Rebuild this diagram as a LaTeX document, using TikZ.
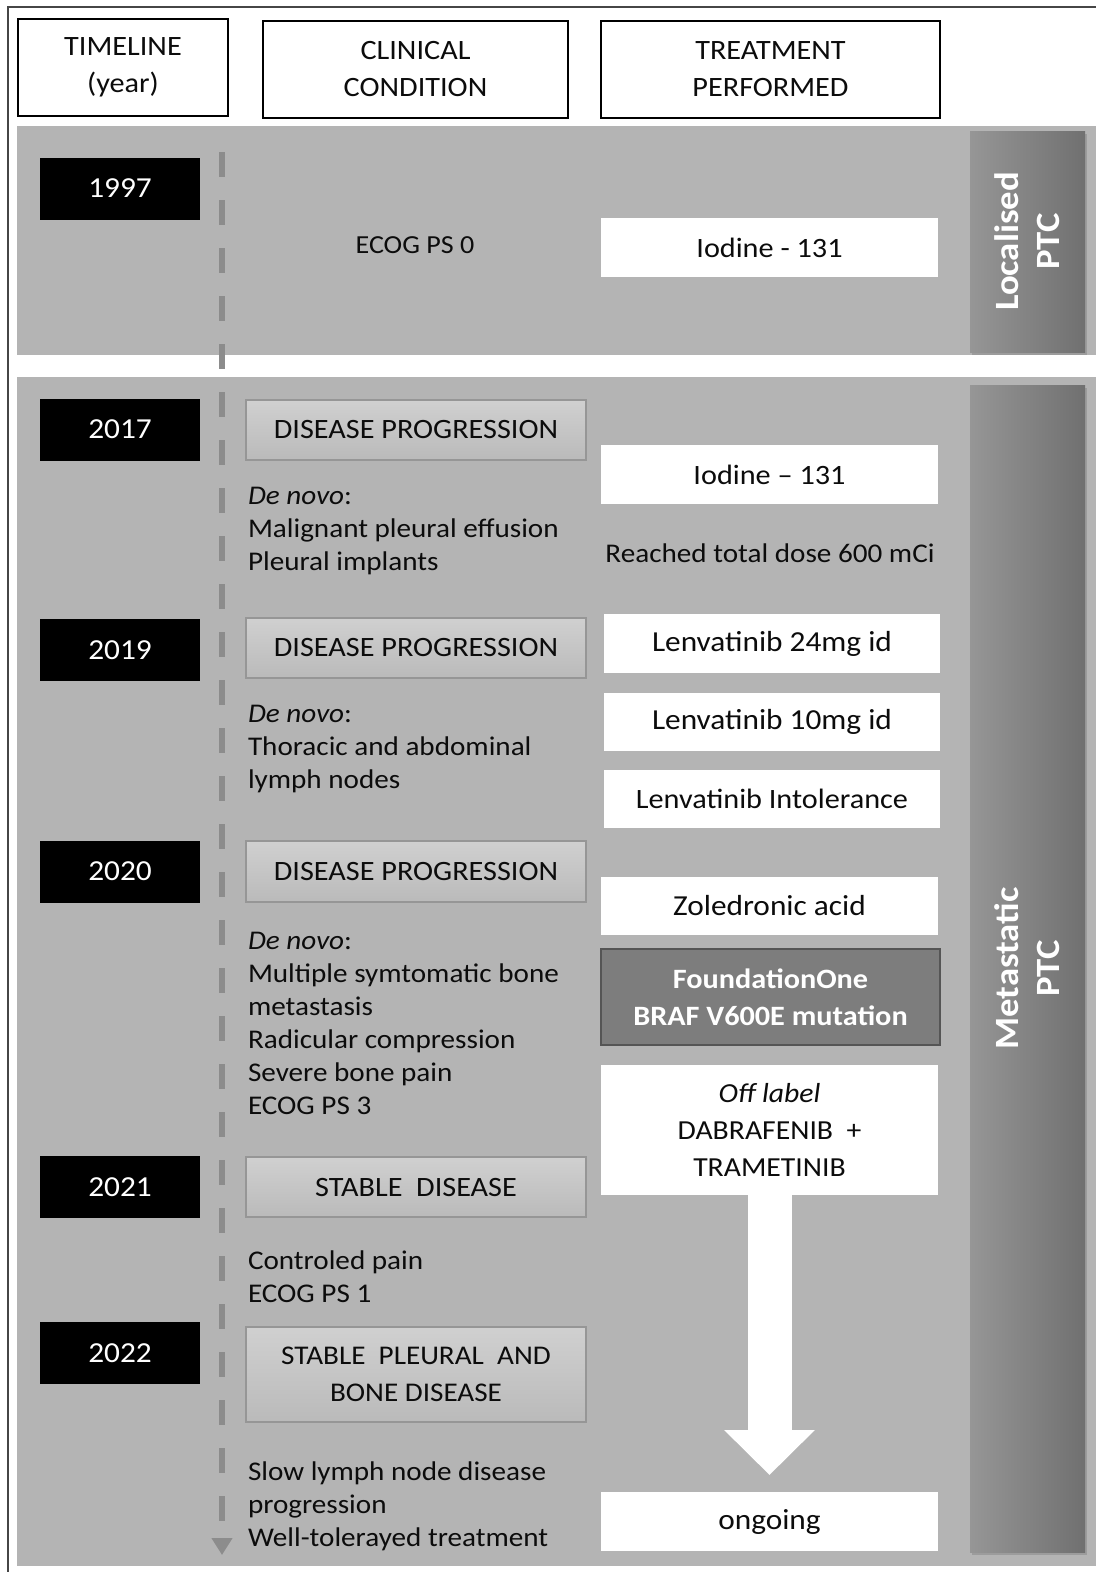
\documentclass[tikz,border=0pt]{standalone}
\usepackage{fontspec}
\setmainfont{Carlito}[FakeStretch=1.08]
\usetikzlibrary{shadows,arrows.meta}
\definecolor{bandgray}{RGB}{180,180,180}
\definecolor{condtop}{RGB}{208,208,208}
\definecolor{condbot}{RGB}{186,186,186}
\definecolor{condedge}{RGB}{150,150,150}
\definecolor{barleft}{RGB}{150,150,150}
\definecolor{barright}{RGB}{112,112,112}
\definecolor{foundfill}{RGB}{125,125,125}
\definecolor{foundedge}{RGB}{85,85,85}
\definecolor{linegray}{RGB}{140,140,140}
\definecolor{txtcol}{RGB}{12,12,12}
\definecolor{framecol}{RGB}{70,70,70}
\begin{document}
\begin{tikzpicture}[x=1pt,y=-1pt,
  every node/.style={inner sep=0pt, outer sep=0pt},
  hdr/.style={draw=black, line width=2.2pt, fill=white, minimum height=97pt, align=center, font=\fontsize{28}{37}\selectfont, text=txtcol},
  yearbox/.style={fill=black, minimum width=160pt, minimum height=62pt, text=white, font=\fontsize{29}{32}\selectfont},
  condbox/.style={draw=condedge, line width=1.2pt, top color=condtop, bottom color=condbot, minimum width=340pt, minimum height=60pt, font=\fontsize{28}{37}\selectfont, align=center, text=txtcol},
  treatbox/.style={fill=white, minimum width=337pt, minimum height=59pt, font=\fontsize{29}{37}\selectfont, align=center, text=txtcol},
  sidebar/.style={left color=barleft, right color=barright, minimum width=115pt, drop shadow={shadow xshift=2pt, shadow yshift=-3pt, opacity=0.45}},
  bartext/.style={rotate=90, text=white, font=\fontsize{34}{41}\selectfont\bfseries, align=center},
  body/.style={anchor=west, align=left, font=\fontsize{27}{33}\selectfont, text=txtcol},
  tline/.style={draw=linegray, line width=6pt, dash pattern=on 25pt off 23pt},
  bigarrow/.style={white, line width=44pt, -{Triangle[width=88pt,length=45pt]}, shorten >=17pt},
]
\useasboundingbox (0,0) rectangle (1096,1572);
\fill[white] (0,0) rectangle (1096,1572);
% outer frame
\draw[framecol, line width=1.5pt] (8,1572) -- (8,7) -- (1096,7);
% bands
\fill[bandgray] (17,126) rectangle (1096,355);
\fill[bandgray] (17,377) rectangle (1096,1566);
% headers
\node[hdr, minimum width=210pt] (hT) at (123,67.5) {TIMELINE\\(year)};
\node[hdr, minimum width=305pt] (hC) at (415.5,69.5) {CLINICAL\\CONDITION};
\node[hdr, minimum width=339pt] (hP) at (770.5,69.5) {TREATMENT\\PERFORMED};
% side bars
\node[sidebar, minimum height=221pt] (locbar) at (1027.5,241.5) {};
\node[bartext] (loctxt) at (locbar.center) {Localised\\PTC};
\node[sidebar, minimum height=1167pt] (metbar) at (1027.5,968.5) {};
\node[bartext] (mettxt) at (metbar.center) {Metastatic\\PTC};
% timeline
\coordinate (tl0) at (222,152);
\coordinate (tl1) at (222,371);
\coordinate (tl2) at (222,392);
\coordinate (tl3) at (222,1555);
\draw[tline] (tl0) -- (tl1);
\draw[tline, -{Triangle[width=20pt,length=17pt]}] (tl2) -- (tl3);
% years
\node[yearbox] (y1997) at (120,188.5) {1997};
\node[yearbox] (y2017) at (120,429.5) {2017};
\node[yearbox] (y2019) at (120,650) {2019};
\node[yearbox] (y2020) at (120,871.5) {2020};
\node[yearbox] (y2021) at (120,1187) {2021};
\node[yearbox] (y2022) at (120,1353) {2022};
% clinical condition
\node[font=\fontsize{26}{30}\selectfont, text=txtcol] (ecog0) at (415,245) {ECOG PS 0};
\node[condbox] (dp1) at (416,430) {DISEASE PROGRESSION};
\node[condbox] (dp2) at (416,648) {DISEASE PROGRESSION};
\node[condbox, minimum height=61pt] (dp3) at (416,871.5) {DISEASE PROGRESSION};
\node[condbox] (sd) at (416,1187) {STABLE\ \ DISEASE};
\node[condbox, minimum height=95pt, font=\fontsize{27}{37}\selectfont] (spb) at (416,1374.5) {STABLE\ \ PLEURAL\ \ AND\\BONE DISEASE};
\node[body] (c1) at (248,531) {\textit{De novo}:\\Malignant pleural effusion\\Pleural implants};
\node[body] (c2) at (248,749.5) {\textit{De novo}:\\Thoracic and abdominal\\lymph nodes};
\node[body] (c3) at (248,1023) {\textit{De novo}:\\Multiple symtomatic bone\\metastasis\\Radicular compression\\Severe bone pain\\ECOG PS 3};
\node[body] (c4) at (248,1277) {Controled pain\\ECOG PS 1};
\node[body] (c5) at (248,1506.5) {Slow lymph node disease\\progression\\Well-tolerayed treatment};
% treatment
\node[treatbox, font=\fontsize{28}{37}\selectfont] (iod1) at (769.5,247.5) {Iodine - 131};
\node[treatbox, font=\fontsize{28}{37}\selectfont] (iod2) at (769.5,474.5) {Iodine -- 131};
\node[font=\fontsize{27}{30}\selectfont, text=txtcol] (reach) at (770,553) {Reached total dose 600 mCi};
\node[treatbox, minimum width=336pt] (len24) at (772,643.5) {Lenvatinib 24mg id};
\node[treatbox, minimum width=336pt, minimum height=58pt] (len10) at (772,722) {Lenvatinib 10mg id};
\node[treatbox, minimum width=336pt, minimum height=58pt, font=\fontsize{28}{37}\selectfont] (lenint) at (772,799) {Lenvatinib Intolerance};
\node[treatbox, minimum height=58pt] (zol) at (769.5,906) {Zoledronic acid};
\node[treatbox, fill=foundfill, draw=foundedge, line width=1.5pt, minimum width=339pt, minimum height=96pt, text=white, font=\fontsize{28}{37}\selectfont\bfseries] (found) at (770.5,997) {FoundationOne\\BRAF V600E mutation};
\node[treatbox, minimum height=130pt, font=\fontsize{27.5}{37}\selectfont] (offl) at (769.5,1130) {\textit{Off label}\\DABRAFENIB\ \ +\\TRAMETINIB};
\node[treatbox] (ongo) at (769.5,1521.5) {ongoing};
\draw[bigarrow] (offl.south) -- (ongo.north);
\end{tikzpicture}
\end{document}
